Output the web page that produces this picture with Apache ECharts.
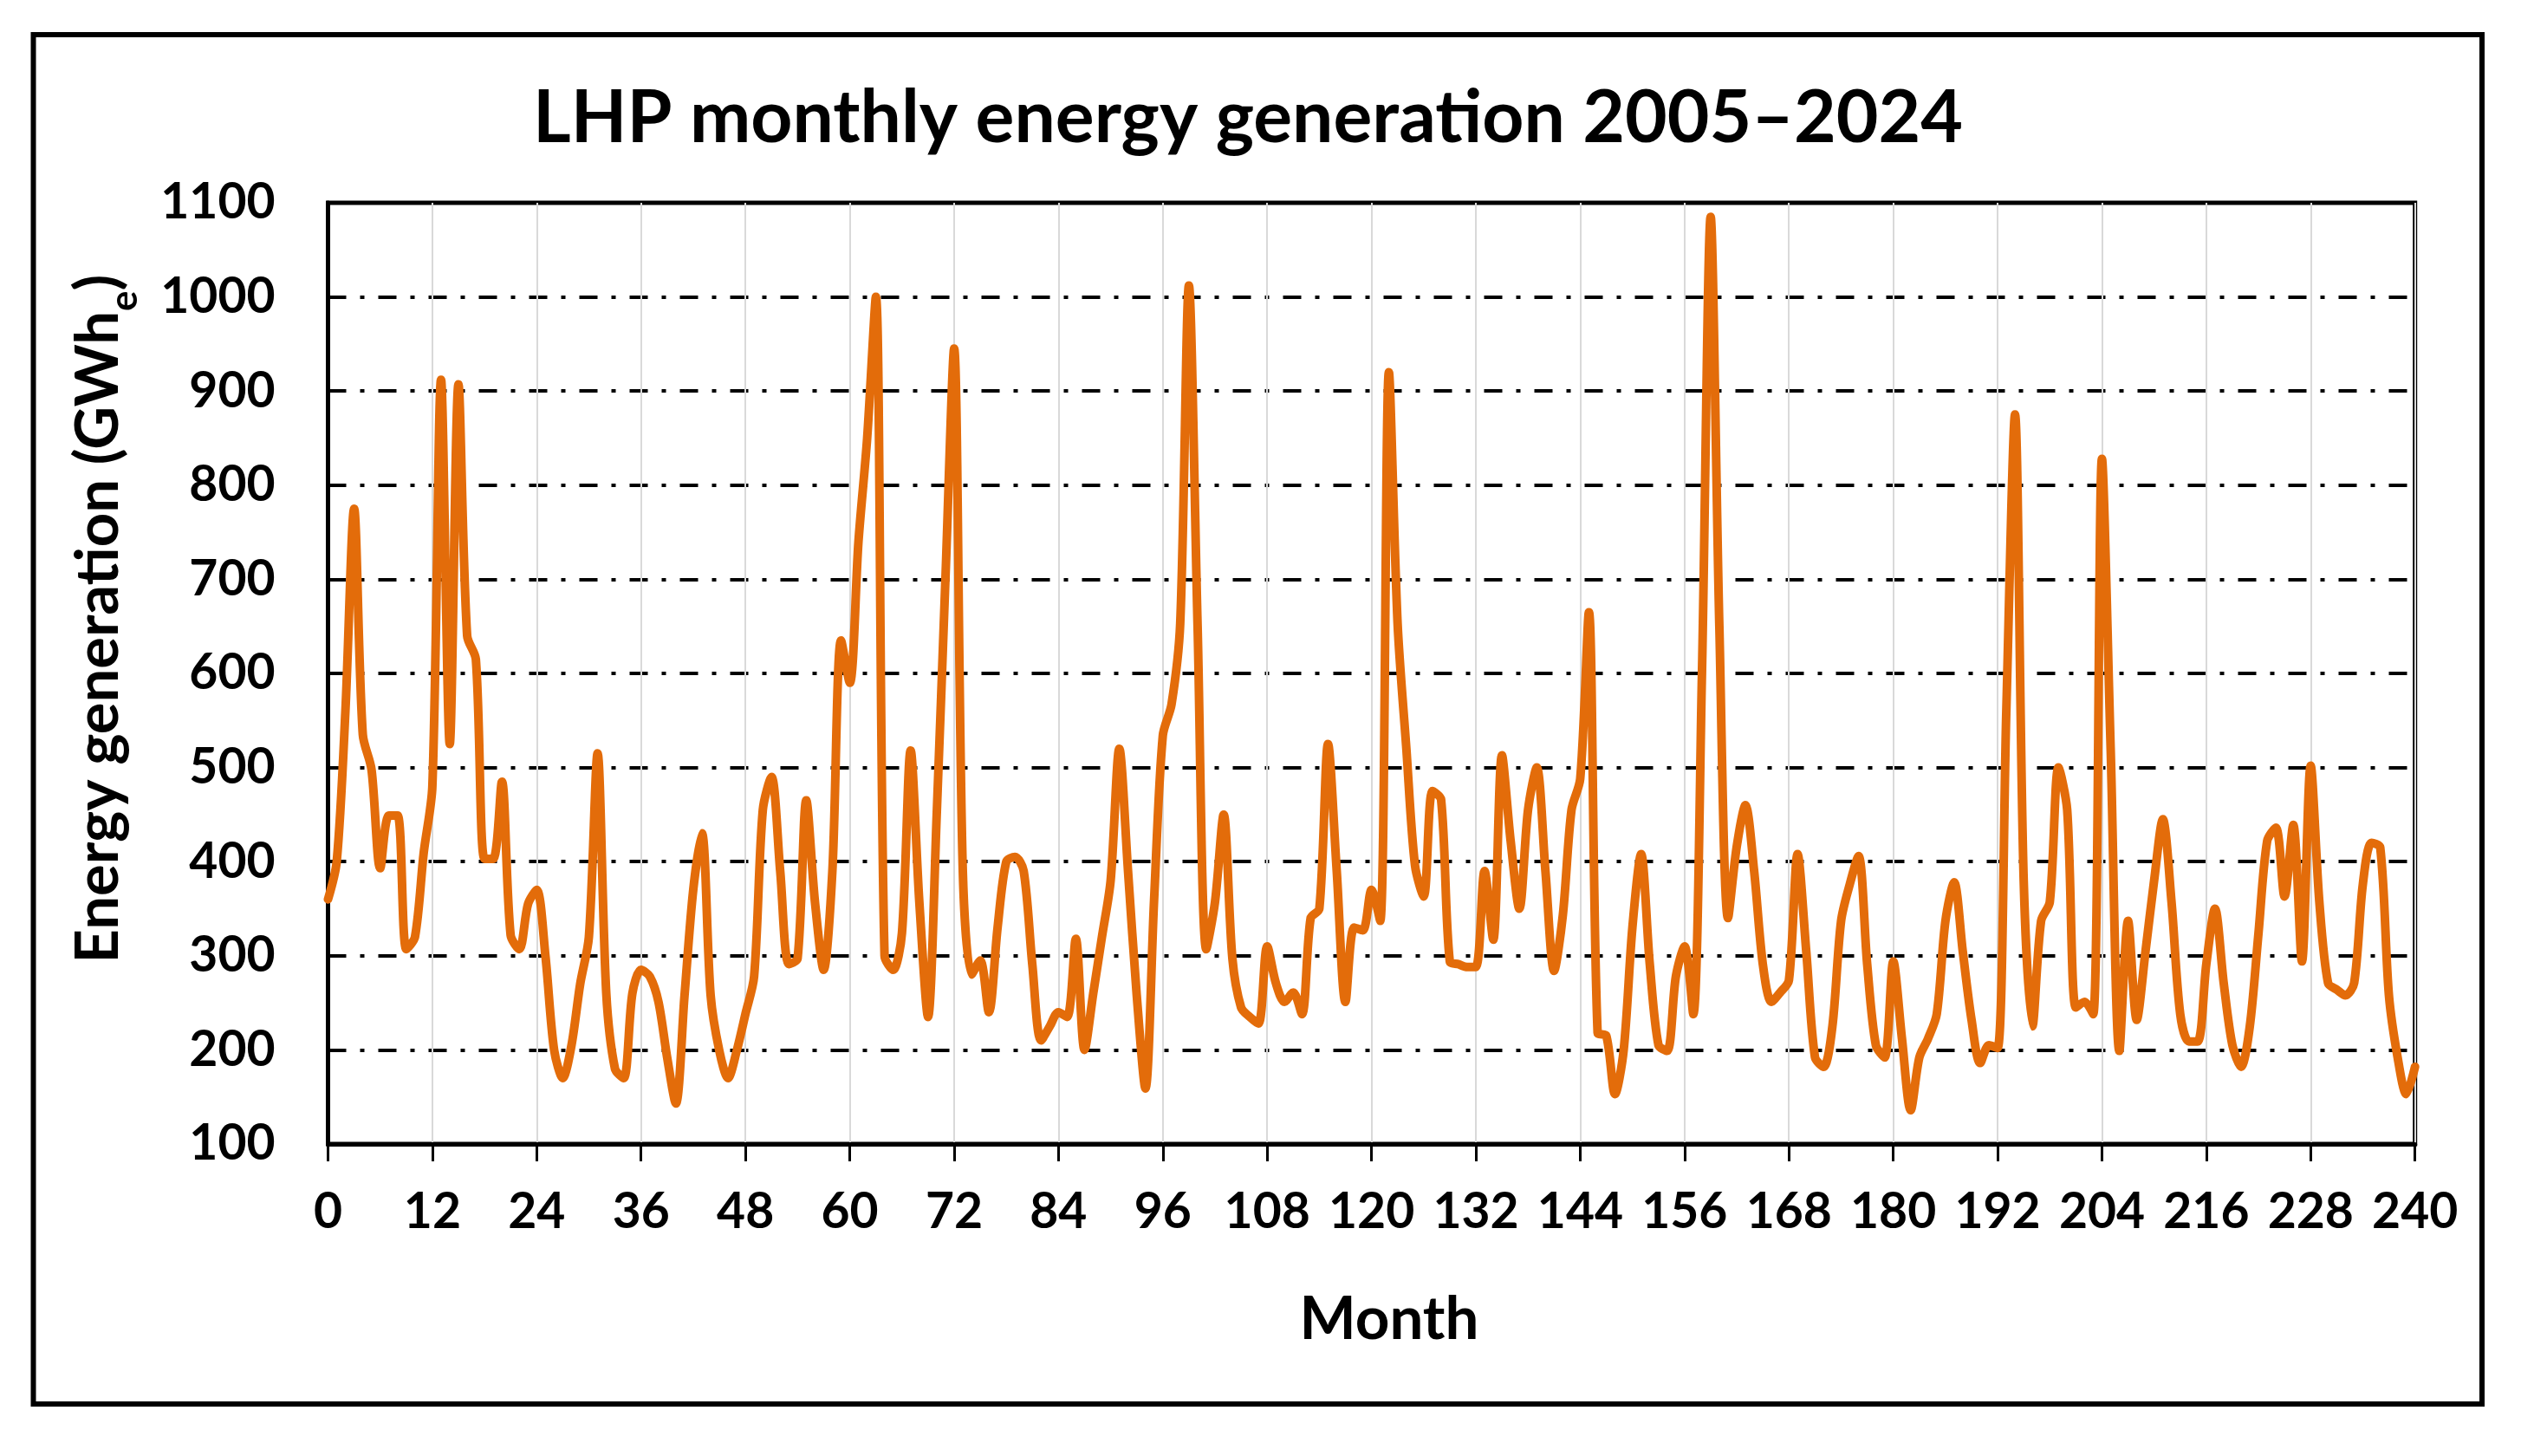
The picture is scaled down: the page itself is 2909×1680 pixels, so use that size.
<!DOCTYPE html>
<html>
<head>
<meta charset="utf-8">
<script src="https://cdn.jsdelivr.net/npm/echarts@6/dist/echarts.min.js"></script>
<style>
html,body{margin:0;padding:0;background:#fff;}
#chart{width:2909px;height:1680px;}
</style>
</head>
<body>
<div id="chart"></div>
<script>
// ---- texts ----
const chartTitle = 'LHP monthly energy generation 2005–2024';
const xAxisTitle = 'Month';
const yAxisTitleMain = 'Energy generation (GWh';
const yAxisTitleSub = 'e';
const yAxisTitleEnd = ')';

// ---- axis ranges ----
const xRange = [0, 240, 12];
const yRange = [100, 1100, 100];

// ---- monthly energy generation (GWh_e), month 0 .. 240 ----
const generation = [
  360, 400, 560, 775, 535, 498, 393, 449, 449, 307,   // 0-9
  320, 409, 480, 912, 525, 907, 640, 615, 403, 403,   // 10-19
  485, 322, 307, 355, 370, 300, 200, 170, 205, 270,   // 20-29
  320, 515, 260, 180, 170, 260, 285, 278, 251, 192,   // 30-39
  143, 258, 370, 430, 258, 199, 170, 199, 238, 278,   // 40-49
  455, 490, 390, 291, 297, 465, 357, 285, 390, 635,   // 50-59
  590, 740, 850, 1000, 300, 285, 324, 518, 357, 235,  // 60-69
  450, 700, 945, 390, 280, 295, 240, 330, 400, 405,   // 70-79
  390, 290, 210, 225, 240, 235, 318, 200, 260, 320,   // 80-89
  380, 520, 390, 258, 159, 360, 534, 567, 653, 1012,  // 90-99
  650, 307, 357, 450, 297, 245, 235, 228, 310, 271,   // 100-109
  251, 261, 238, 340, 350, 525, 390, 251, 330, 327,   // 110-119
  370, 337, 920, 653, 521, 396, 363, 475, 466, 294,   // 120-129
  291, 288, 288, 390, 317, 513, 422, 350, 455, 500,   // 130-139
  390, 284, 343, 455, 488, 665, 218, 215, 153, 200,   // 140-149
  330, 408, 291, 205, 199, 278, 310, 238, 600, 1085,  // 150-159
  650, 340, 416, 460, 390, 291, 251, 261, 274, 408,   // 160-169
  304, 192, 182, 225, 337, 376, 406, 291, 205, 192,   // 170-179
  294, 212, 136, 192, 212, 238, 337, 378, 304, 232,   // 180-189
  186, 205, 202, 560, 875, 380, 225, 337, 357, 500,   // 190-199
  455, 245, 251, 238, 828, 520, 199, 337, 232, 304,   // 200-209
  380, 445, 357, 238, 209, 209, 291, 350, 271, 205,   // 210-219
  182, 225, 324, 422, 436, 363, 439, 294, 502, 357,   // 220-229
  271, 264, 258, 271, 376, 420, 415, 258, 192, 153,   // 230-239
  182                                                 // 240
];
const months = generation.map((_, i) => i);

// ---- font fitting helpers ----
const FAMILY = 'Lato';
const mctx = document.createElement('canvas').getContext('2d');
function measure(text, size) {
  mctx.font = 'bold ' + size + 'px ' + FAMILY;
  return mctx.measureText(text).width;
}
function fitSize(text, target) { return 100 * target / measure(text, 100); }

const titleSize = fitSize(chartTitle, 1650);
const monthSize = fitSize(xAxisTitle, 207);
const SUB_RATIO = 0.64;
const yUnit = measure(yAxisTitleMain, 100) + measure(yAxisTitleSub, 100 * SUB_RATIO) + measure(yAxisTitleEnd, 100);
const yTitleSize = 100 * 795 / yUnit;
const ySubSize = yTitleSize * SUB_RATIO;
const wMain = measure(yAxisTitleMain, yTitleSize);
const wSub = measure(yAxisTitleSub, ySubSize);
const wEnd = measure(yAxisTitleEnd, yTitleSize);
const yTitleLen = wMain + wSub + wEnd;

function txt(x, y, text, size, align) {
  return {
    type: 'text', x: x, y: y, silent: true,
    style: {
      text: text, font: 'bold ' + size + 'px ' + FAMILY, fill: '#000',
      align: align, verticalAlign: 'middle',
      textAlign: align, textVerticalAlign: 'middle'
    }
  };
}

const chart = echarts.init(document.getElementById('chart'), null, {renderer: 'canvas'});
const tickFont = {fontFamily: FAMILY, fontWeight: 'bold', fontSize: 57, color: '#000'};

chart.setOption({
  animation: false,
  backgroundColor: '#fff',
  grid: {left: 378.5, top: 234, width: 2408.2, height: 1086, show: true,
         borderColor: '#000', borderWidth: 5, backgroundColor: 'transparent'},
  xAxis: {
    type: 'value', min: xRange[0], max: xRange[1], interval: xRange[2],
    axisLine: {show: true, onZero: false, lineStyle: {color: '#000', width: 5}},
    axisTick: {show: true, length: 20, lineStyle: {color: '#000', width: 3}},
    axisLabel: Object.assign({margin: 50, formatter: v => String(v)}, tickFont),
    splitLine: {show: true, lineStyle: {color: '#d9d9d9', width: 2}}
  },
  yAxis: {
    type: 'value', min: yRange[0], max: yRange[1], interval: yRange[2],
    axisLine: {show: true, lineStyle: {color: '#000', width: 5}},
    axisTick: {show: false},
    axisLabel: Object.assign({margin: 61, formatter: v => String(v)}, tickFont),
    splitLine: {show: true, lineStyle: {color: '#000', width: 4, type: [21, 16, 5, 16]}}
  },
  series: [{
    type: 'line',
    data: months.map((m, i) => [m, generation[i]]),
    smooth: 0.3,
    symbol: 'none',
    lineStyle: {color: '#E36C0A', width: 10, join: 'round', cap: 'round'},
    itemStyle: {color: '#E36C0A'},
    z: 5
  }],
  graphic: [
    {type: 'rect', silent: true, shape: {x: 38.5, y: 40, width: 2825.5, height: 1580},
     style: {fill: 'none', stroke: '#000', lineWidth: 6}},
    txt(1440, 137, chartTitle, titleSize, 'center'),
    txt(1603, 1523, xAxisTitle, monthSize, 'center'),
    {type: 'group', x: 138, y: 714, rotation: Math.PI / 2, silent: true,
     children: [
       txt(-yTitleLen / 2, -0.35 * yTitleSize, yAxisTitleMain, yTitleSize, 'left'),
       txt(-yTitleLen / 2 + wMain, 19 - 0.3 * ySubSize, yAxisTitleSub, ySubSize, 'left'),
       txt(-yTitleLen / 2 + wMain + wSub, -0.35 * yTitleSize, yAxisTitleEnd, yTitleSize, 'left')
     ]}
  ]
});
</script>
</body>
</html>
